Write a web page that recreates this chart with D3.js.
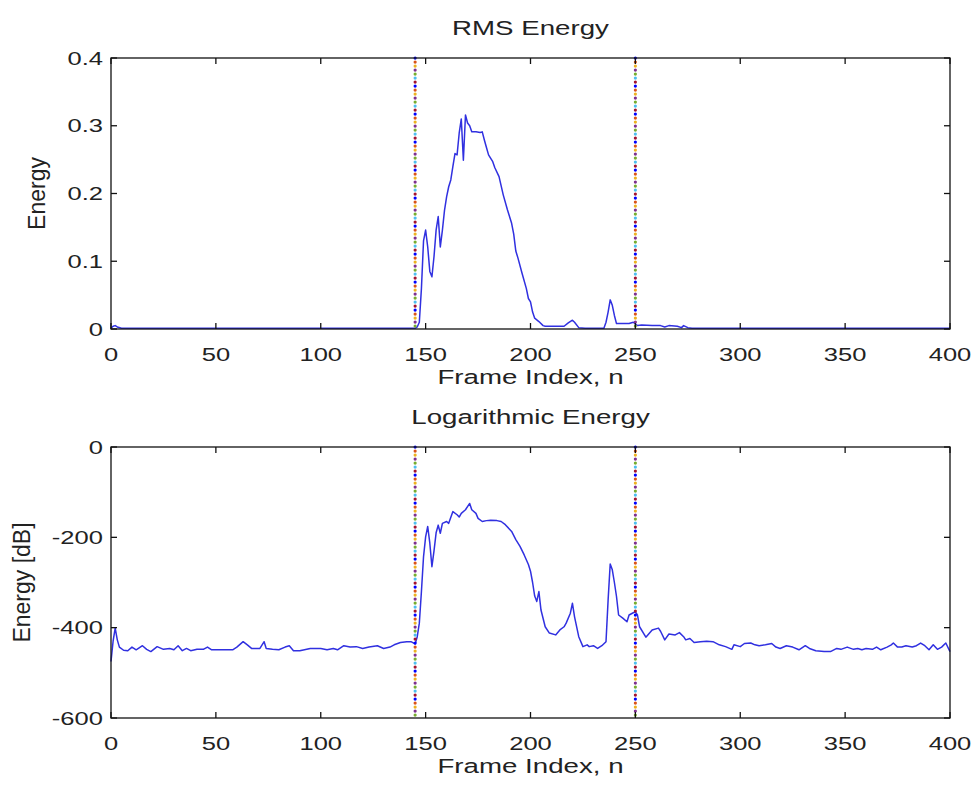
<!DOCTYPE html>
<html>
<head>
<meta charset="utf-8">
<script src="https://cdn.jsdelivr.net/npm/d3@7"></script>
<style>
  body { margin: 0; background: #fff; }
  svg { display: block; }
  text { font-family: "Liberation Sans", Arial, sans-serif; fill: #222; }
</style>
</head>
<body>
<svg id="chart" width="976" height="787"></svg>
<script>
const W = 976, H = 787;
const SX = 1.42;   // text in the picture is wider than plain Arial

// frame indices and values
const rmsFrames = [0, 1, 2, 3, 5, 20, 40, 60, 80, 100, 120, 140, 145, 146, 147, 148, 149, 150, 151, 152, 153, 154, 155, 156, 157, 158, 159, 160, 161, 162, 163, 164, 165, 166, 167, 168, 169, 170, 171, 172, 174, 176, 177, 178, 179, 180, 182, 183, 185, 187, 189, 191, 192, 193, 194, 196, 198, 199, 200, 201, 202, 204, 206, 207, 210, 214, 216, 218, 220, 221, 223, 226, 230, 235, 236, 237, 238, 239, 240, 241, 244, 247, 249, 251, 253, 258, 262, 264, 266, 270, 272, 273, 275, 277, 290, 320, 350, 380, 400];
const rmsValues = [0.001, 0.004, 0.005, 0.003, 0.001, 0.001, 0.001, 0.001, 0.001, 0.001, 0.001, 0.001, 0.001, 0.003, 0.01, 0.06, 0.13, 0.146, 0.121, 0.085, 0.077, 0.107, 0.146, 0.166, 0.121, 0.146, 0.175, 0.195, 0.21, 0.22, 0.24, 0.259, 0.257, 0.289, 0.31, 0.249, 0.316, 0.304, 0.3, 0.291, 0.291, 0.29, 0.291, 0.279, 0.268, 0.257, 0.247, 0.238, 0.225, 0.198, 0.176, 0.156, 0.14, 0.115, 0.105, 0.082, 0.06, 0.045, 0.04, 0.025, 0.016, 0.011, 0.005, 0.004, 0.004, 0.004, 0.004, 0.009, 0.013, 0.01, 0.002, 0.001, 0.001, 0.001, 0.01, 0.025, 0.043, 0.035, 0.02, 0.008, 0.008, 0.008, 0.01, 0.005, 0.006, 0.005, 0.005, 0.003, 0.005, 0.004, 0.002, 0.005, 0.002, 0.001, 0.001, 0.001, 0.001, 0.001, 0.001];

const logFrames = [0, 1, 2, 3, 4, 6, 8, 10, 12, 15, 17, 19, 22, 25, 28, 30, 32, 34, 36, 38, 41, 44, 46, 48, 52, 56, 58, 60, 63, 65, 67, 71, 73, 74, 77, 80, 83, 85, 87, 90, 95, 100, 103, 106, 108, 111, 114, 117, 120, 123, 127, 130, 133, 135, 138, 141, 143, 145, 146, 147, 148, 149, 150, 151, 152, 153, 154, 155, 156, 157, 158, 160, 161, 163, 165, 166, 167, 169, 171, 172, 174, 175, 177, 179, 181, 184, 186, 188, 190, 191, 193, 195, 197, 199, 200, 201, 202, 203, 204, 205, 207, 209, 212, 214, 216, 217, 219, 220, 221, 223, 225, 227, 228, 230, 232, 234, 236, 237, 238, 239, 240, 241, 242, 244, 246, 247, 249, 250, 251, 252, 255, 258, 261, 262, 264, 266, 269, 271, 273, 274, 276, 278, 281, 284, 287, 290, 293, 296, 297, 300, 302, 305, 307, 309, 312, 315, 317, 319, 322, 325, 328, 331, 333, 336, 340, 343, 346, 348, 351, 354, 356, 358, 360, 363, 365, 367, 370, 372, 373, 375, 377, 379, 382, 384, 386, 388, 390, 392, 394, 396, 398, 400];
const logValues = [-475, -430, -401, -427, -443, -450, -451, -443, -449, -440, -448, -453, -442, -448, -446, -449, -440, -451, -446, -451, -448, -448, -443, -449, -449, -449, -449, -443, -431, -438, -446, -446, -431, -446, -448, -449, -443, -440, -451, -451, -446, -446, -449, -446, -449, -440, -443, -442, -446, -443, -440, -446, -443, -438, -433, -431, -431, -436, -420, -390, -320, -243, -199, -176, -213, -265, -230, -190, -173, -191, -169, -165, -169, -143, -150, -155, -147, -139, -125, -139, -147, -158, -165, -163, -162, -163, -165, -172, -182, -187, -205, -220, -239, -260, -275, -300, -330, -342, -320, -361, -398, -412, -416, -405, -398, -390, -368, -346, -376, -420, -442, -438, -442, -440, -446, -440, -431, -339, -259, -272, -300, -331, -372, -379, -387, -372, -367, -365, -372, -398, -421, -405, -401, -408, -427, -414, -416, -411, -420, -427, -424, -433, -431, -430, -431, -438, -442, -448, -438, -442, -435, -434, -438, -440, -438, -435, -443, -446, -440, -443, -449, -440, -446, -451, -453, -453, -446, -448, -443, -448, -446, -449, -446, -448, -443, -449, -443, -438, -434, -443, -443, -440, -443, -440, -434, -440, -449, -438, -448, -443, -434, -453];

const boundaries = [145, 250];
const xTicks = [0, 50, 100, 150, 200, 250, 300, 350, 400];
const rmsTicks = [0, 0.1, 0.2, 0.3, 0.4];
const logTicks = [0, -200, -400, -600];
const markerColors = ['#0000ff', '#d95319', '#edb120', '#7e2f8e', '#77ac30', '#4dbeee', '#a2142f'];

const svg = d3.select('#chart');

function stretchedText(g, x, y, str, size, anchor) {
    return g.append('text')
        .attr('transform', `translate(${x},${y}) scale(${SX},1)`)
        .attr('font-size', size)
        .attr('text-anchor', anchor)
        .text(str);
}

function drawPanel(opts) {
    const x = d3.scaleLinear().domain([0, 400]).range([111, 950]);
    const y = d3.scaleLinear().domain(opts.domain).range([opts.bottom, opts.top]);
    const g = svg.append('g');

    // data line
    const line = d3.line()
        .x((d, i) => x(opts.frames[i]))
        .y(d => y(d));
    g.append('path')
        .datum(opts.values)
        .attr('fill', 'none')
        .attr('stroke', '#3030e0')
        .attr('stroke-width', 1.5)
        .attr('stroke-linejoin', 'round')
        .attr('d', line);

    // multicoloured dotted boundary lines
    boundaries.forEach(b => {
        markerColors.forEach((c, i) => {
            g.append('line')
                .attr('x1', x(b)).attr('x2', x(b))
                .attr('y1', opts.top).attr('y2', opts.bottom)
                .attr('stroke', c)
                .attr('stroke-width', 3.2)
                .attr('stroke-linecap', 'round')
                .attr('stroke-dasharray', `0.1 ${markerColors.length * 4 - 0.1}`)
                .attr('stroke-dashoffset', -i * 4);
        });
    });

    // box and inward ticks
    g.append('rect')
        .attr('x', 111).attr('y', opts.top)
        .attr('width', 839).attr('height', opts.bottom - opts.top)
        .attr('fill', 'none')
        .attr('stroke', '#111')
        .attr('stroke-width', 1.3);

    const tickStyle = sel => sel.attr('stroke', '#111').attr('stroke-width', 1.3);
    xTicks.forEach(t => {
        g.append('line').attr('x1', x(t)).attr('x2', x(t))
            .attr('y1', opts.bottom).attr('y2', opts.bottom - 6).call(tickStyle);
        g.append('line').attr('x1', x(t)).attr('x2', x(t))
            .attr('y1', opts.top).attr('y2', opts.top + 6).call(tickStyle);
        stretchedText(g, x(t), opts.bottom + 32, String(t), 18, 'middle');
    });
    opts.ticks.forEach(t => {
        g.append('line').attr('x1', 111).attr('x2', 117)
            .attr('y1', y(t)).attr('y2', y(t)).call(tickStyle);
        g.append('line').attr('x1', 950).attr('x2', 944)
            .attr('y1', y(t)).attr('y2', y(t)).call(tickStyle);
        stretchedText(g, 103, y(t) + 6.5, String(t), 18, 'end');
    });

    stretchedText(g, 530.5, opts.top - 23, opts.title, 19.5, 'middle');
    stretchedText(g, 530.5, opts.bottom + 55, 'Frame Index, n', 19.5, 'middle');
    g.append('text')
        .attr('transform', `translate(${opts.ylabelX},${(opts.top + opts.bottom) / 2}) rotate(-90)`)
        .attr('font-size', 23)
        .attr('text-anchor', 'middle')
        .text(opts.ylabel);
}

drawPanel({
    frames: rmsFrames, values: rmsValues, domain: [0, 0.4], ticks: rmsTicks,
    top: 58, bottom: 329, title: 'RMS Energy', ylabel: 'Energy', ylabelX: 45
});
drawPanel({
    frames: logFrames, values: logValues, domain: [-600, 0], ticks: logTicks,
    top: 447, bottom: 718, title: 'Logarithmic Energy', ylabel: 'Energy [dB]', ylabelX: 30
});
</script>
</body>
</html>
